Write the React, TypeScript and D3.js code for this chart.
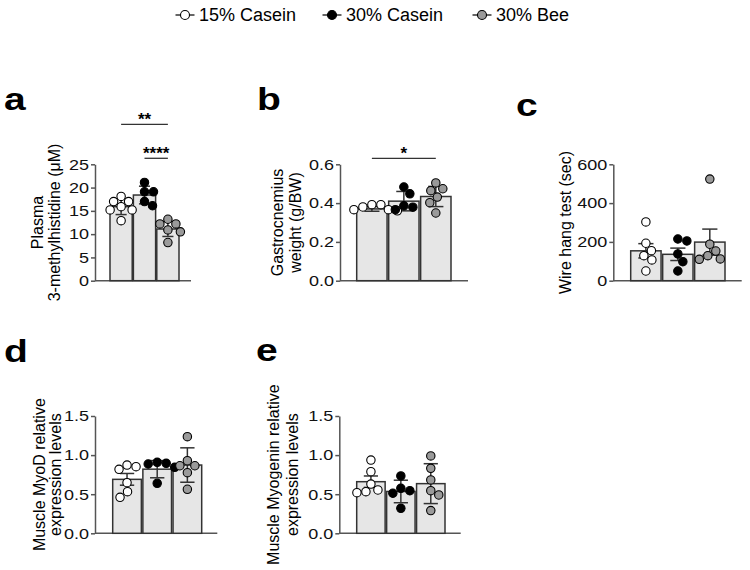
import * as d3 from 'd3';
import React, { useEffect, useRef } from 'react';

const groups = ['15% Casein', '30% Casein', '30% Bee'];
const dotFill = ['#ffffff', '#000000', '#9a9a9a'];

// a - plasma 3-methylhistidine (uM), mean +- error
const methylMeans = [15.9, 18.4, 11.1];
const methylErrs = [1.7, 1.9, 1.6];
const methylPoints = [
    [17.0, 17.0, 18.1, 15.9, 15.2, 15.2, 12.9],
    [21.1, 19.1, 19.1, 16.1, 17.0],
    [12.2, 13.2, 12.2, 10.9, 10.5, 8.2],
];
const methylTicks = [0, 5, 10, 15, 20, 25];

// b - gastrocnemius weight (g/BW)
const gastroMeans = [0.37, 0.41, 0.434];
const gastroErrs = [0.012, 0.05, 0.052];
const gastroPoints = [
    [0.366, 0.392, 0.366, 0.392, 0.36, 0.38],
    [0.366, 0.483, 0.448, 0.386, 0.379],
    [0.474, 0.431, 0.504, 0.464, 0.402, 0.349],
];
const gastroTicks = [0, 0.2, 0.4, 0.6];

// c - wire hang test (sec)
const wireMeans = [154, 136, 199];
const wireErrs = [37, 32, 67];
const wirePoints = [
    [193, 129, 303, 50, 155, 107],
    [215, 138, 98, 50, 205],
    [153, 110, 524, 129, 188, 112],
];
const wireTicks = [0, 200, 400, 600];

// d - MyoD relative expression
const myodMeans = [0.69, 0.82, 0.873];
const myodErrs = [0.075, 0.11, 0.22];
const myodPoints = [
    [0.873, 0.818, 0.852, 0.647, 0.532, 0.46],
    [0.908, 0.886, 0.895, 0.844, 0.639],
    [0.864, 1.235, 0.928, 0.775, 0.563, 0.864],
];
const exprTicks = [0, 0.5, 1.0, 1.5];

// e - Myogenin relative expression
const myogMeans = [0.66, 0.535, 0.635];
const myogErrs = [0.073, 0.144, 0.255];
const myogPoints = [
    [0.63, 0.519, 0.937, 0.788, 0.554, 0.532],
    [0.575, 0.733, 0.512, 0.32, 0.545],
    [0.545, 0.99, 0.831, 0.682, 0.29, 0.49],
];

interface Sig { from: number; to: number; text: string; level: number; }

const panels = [
    {
        letter: 'a', lx: 4, ly: 110,
        means: methylMeans, errs: methylErrs, points: methylPoints, ticks: methylTicks, fmt: d3.format('d'),
        title: ['Plasma', '3-methylhistidine (\u03bcM)'], tx: [37, 54],
        x0: 95, x1: 191, top: 164.3, bottom: 280.7, b0: 110, b1: 179,
        sig: [{ from: 0, to: 2, text: '**', level: 1 }, { from: 1, to: 2, text: '****', level: 0 }] as Sig[],
    },
    {
        letter: 'b', lx: 257, ly: 110,
        means: gastroMeans, errs: gastroErrs, points: gastroPoints, ticks: gastroTicks, fmt: d3.format('.1f'),
        title: ['Gastrocnemius', 'weight (g/BW)'], tx: [277, 295],
        x0: 340, x1: 468, top: 164.3, bottom: 280.7, b0: 356.7, b1: 451,
        sig: [{ from: 0, to: 2, text: '*', level: 0 }] as Sig[],
    },
    {
        letter: 'c', lx: 516, ly: 115.5,
        means: wireMeans, errs: wireErrs, points: wirePoints, ticks: wireTicks, fmt: d3.format('d'),
        title: ['Wire hang test (sec)'], tx: [565],
        x0: 613.3, x1: 741.7, top: 164.3, bottom: 280.7, b0: 630.7, b1: 725,
        sig: [] as Sig[],
    },
    {
        letter: 'd', lx: 4, ly: 361.5,
        means: myodMeans, errs: myodErrs, points: myodPoints, ticks: exprTicks, fmt: d3.format('.1f'),
        title: ['Muscle MyoD relative', 'expression levels'], tx: [39, 55],
        x0: 95, x1: 217.3, top: 416, bottom: 533.3, b0: 112.7, b1: 201.7,
        sig: [] as Sig[],
    },
    {
        letter: 'e', lx: 256, ly: 360.5,
        means: myogMeans, errs: myogErrs, points: myogPoints, ticks: exprTicks, fmt: d3.format('.1f'),
        title: ['Muscle Myogenin relative', 'expression levels'], tx: [273, 292],
        x0: 339.3, x1: 460.7, top: 416, bottom: 533.3, b0: 356.7, b1: 445,
        sig: [] as Sig[],
    },
];

const legendX = [199, 346, 496];

// simple beeswarm: keep points apart, smallest horizontal offset wins
function swarm(values: number[], y: (v: number) => number, minDist: number) {
    const placed: { dx: number; py: number }[] = [];
    const order = values.map((_, i) => i).sort((i, j) => values[j] - values[i]);
    for (const i of order) {
        const py = y(values[i]);
        let dx = 0;
        for (let k = 0; k < 400; k++) {
            const cand = k === 0 ? 0 : (k % 2 ? 1 : -1) * Math.ceil(k / 2) * 0.5;
            if (placed.every(p => Math.hypot(p.dx - cand, p.py - py) >= minDist)) {
                dx = cand;
                break;
            }
        }
        placed.push({ dx, py });
    }
    return placed;
}

const App: React.FC = () => {
    const svgRef = useRef<SVGSVGElement | null>(null);

    useEffect(() => {
        const font = '"Liberation Sans", Arial, sans-serif';
        const svg = d3.select(svgRef.current);
        svg.selectAll('*').remove();
        svg.attr('font-family', font);

        const tickSize = 4;
        const tickPad = 2;

        panels.forEach(p => {
            const g = svg.append('g');
            const y = d3.scaleLinear().domain([0, p.ticks[p.ticks.length - 1]]).range([p.bottom, p.top]);
            const x = d3.scaleBand().domain(groups).range([p.b0, p.b1]).paddingInner(0.05);
            const bw = x.bandwidth();

            // panel letter (the figure's lettering is a bit wide)
            g.append('text')
                .attr('transform', `translate(${p.lx},${p.ly}) scale(1.22,1)`)
                .attr('font-size', 32).attr('font-weight', 'bold')
                .text(p.letter);

            // y axis
            const axis = g.append('g')
                .attr('transform', `translate(${p.x0},0)`)
                .call(d3.axisLeft(y).tickValues(p.ticks).tickFormat(d => p.fmt(d as number)).tickSize(tickSize).tickPadding(tickPad).tickSizeOuter(0));
            axis.select('.domain').attr('stroke', '#555').attr('stroke-width', 1.5);
            axis.selectAll('.tick line').attr('stroke', '#555').attr('stroke-width', 1.5);
            axis.selectAll('.tick text')
                .attr('x', 0)
                .attr('transform', `translate(${-(tickSize + tickPad)},0) scale(1.2,1)`)
                .attr('font-size', 15).attr('font-family', font).attr('fill', '#111');

            // baseline
            g.append('line')
                .attr('x1', p.x0).attr('x2', p.x1)
                .attr('y1', y(0)).attr('y2', y(0))
                .attr('stroke', '#555').attr('stroke-width', 1.5);

            // y title
            p.title.forEach((t, i) => {
                g.append('text')
                    .attr('transform', `translate(${p.tx[i]},${(p.top + p.bottom) / 2}) rotate(-90)`)
                    .attr('text-anchor', 'middle')
                    .attr('dy', '0.35em')
                    .attr('font-size', 16)
                    .text(t);
            });

            // bars
            g.selectAll('.bar')
                .data(p.means)
                .enter()
                .append('rect')
                .attr('x', (_, i) => x(groups[i])!)
                .attr('y', d => y(d))
                .attr('width', bw)
                .attr('height', d => y(0) - y(d))
                .attr('fill', '#e6e6e6')
                .attr('stroke', '#333')
                .attr('stroke-width', 1.5);

            // error bars
            p.means.forEach((m, i) => {
                const cx = x(groups[i])! + bw / 2;
                const e = p.errs[i];
                const cap = bw * 0.25;
                const eg = g.append('g').attr('stroke', '#333').attr('stroke-width', 1.5);
                eg.append('line').attr('x1', cx).attr('x2', cx).attr('y1', y(m + e)).attr('y2', y(m - e));
                eg.append('line').attr('x1', cx - cap).attr('x2', cx + cap).attr('y1', y(m + e)).attr('y2', y(m + e));
                eg.append('line').attr('x1', cx - cap).attr('x2', cx + cap).attr('y1', y(m - e)).attr('y2', y(m - e));
            });

            // dots
            p.points.forEach((vals, i) => {
                const cx = x(groups[i])! + bw / 2;
                const placed = swarm(vals, y, 9);
                g.selectAll(`.dot${i}`)
                    .data(placed)
                    .enter()
                    .append('circle')
                    .attr('cx', d => cx + d.dx)
                    .attr('cy', d => d.py)
                    .attr('r', 4.2)
                    .attr('fill', dotFill[i])
                    .attr('stroke', '#000')
                    .attr('stroke-width', 1.1);
            });

            // significance brackets
            p.sig.forEach(s => {
                const ly = p.top - 6 - s.level * 34;
                const xa = x(groups[s.from])! + bw / 2;
                const xb = x(groups[s.to])! + bw / 2;
                g.append('line')
                    .attr('x1', xa).attr('x2', xb).attr('y1', ly).attr('y2', ly)
                    .attr('stroke', '#333').attr('stroke-width', 1.3);
                g.append('text')
                    .attr('x', (xa + xb) / 2).attr('y', ly + 1)
                    .attr('text-anchor', 'middle')
                    .attr('font-size', 17).attr('font-weight', 'bold')
                    .text(s.text);
            });
        });

        // legend
        const lg = svg.append('g');
        groups.forEach((name, i) => {
            const tx = legendX[i];
            const cx = tx - 14;
            lg.append('line')
                .attr('x1', cx - 9.5).attr('x2', cx + 9.5).attr('y1', 15).attr('y2', 15)
                .attr('stroke', '#000').attr('stroke-width', 1.2);
            lg.append('circle')
                .attr('cx', cx).attr('cy', 15).attr('r', 4.5)
                .attr('fill', dotFill[i]).attr('stroke', '#000').attr('stroke-width', 1.1);
            lg.append('text')
                .attr('x', tx).attr('y', 21)
                .attr('font-size', 18)
                .text(name);
        });
    }, []);

    return (
        <svg
            ref={svgRef}
            width={750}
            height={570}
            style={{ position: 'absolute', left: 0, top: 0, background: '#fff' }}
        />
    );
};

export default App;
